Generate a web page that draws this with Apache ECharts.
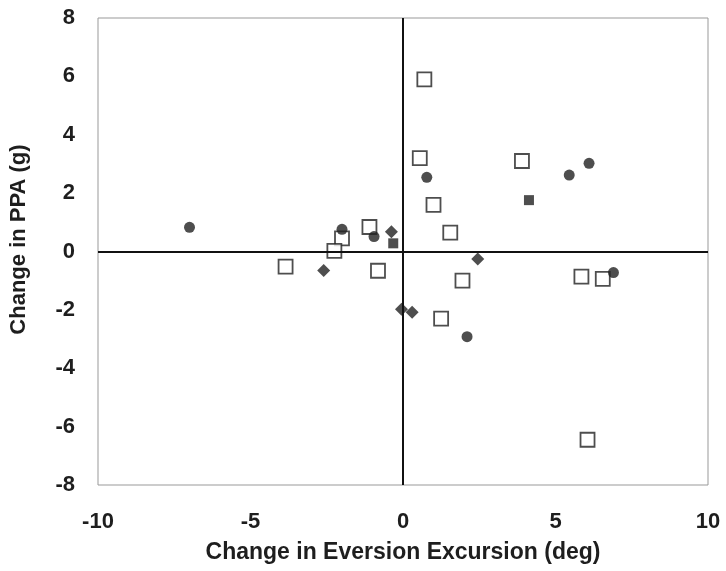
<!DOCTYPE html>
<html>
<head>
<meta charset="utf-8">
<script src="https://cdn.jsdelivr.net/npm/echarts@6/dist/echarts.min.js"></script>
<style>html,body{margin:0;padding:0;background:#fff}#c{width:726px;height:571px}</style>
</head>
<body>
<div id="c"></div>
<script>
var xTicks = [-10, -5, 0, 5, 10];
var yTicks = [-8, -6, -4, -2, 0, 2, 4, 6, 8];
var openSquares = [
  [0.7, 5.9], [0.55, 3.2], [3.9, 3.1], [1.0, 1.6], [1.55, 0.65],
  [-1.1, 0.84], [-2.0, 0.45], [-2.25, 0.02], [-3.85, -0.52], [-0.82, -0.66],
  [1.95, -1.0], [1.25, -2.3], [5.85, -0.86], [6.55, -0.94], [6.05, -6.45]
];
var filledCircles = [
  [-7.0, 0.83], [-2.0, 0.76], [-0.95, 0.51], [0.78, 2.54], [5.45, 2.62],
  [6.1, 3.02], [6.9, -0.72], [2.1, -2.92]
];
var filledDiamonds = [
  [-0.38, 0.68], [-2.6, -0.65], [2.45, -0.26], [-0.05, -1.98], [0.3, -2.08]
];
var filledSquares = [
  [-0.32, 0.28], [4.13, 1.76]
];

var chart = echarts.init(document.getElementById('c'));
var font = 'Liberation Sans, Arial, sans-serif';
chart.setOption({
  animation: false,
  backgroundColor: '#fff',
  grid: { left: 98, right: 18, top: 18, bottom: 86, show: true, borderColor: '#999', borderWidth: 1, backgroundColor: 'transparent' },
  xAxis: {
    type: 'value', min: xTicks[0], max: xTicks[xTicks.length - 1], interval: 5,
    axisLine: { show: false }, axisTick: { show: false }, splitLine: { show: false },
    axisLabel: { fontFamily: font, fontWeight: 'bold', fontSize: 22, color: '#1e1e1e', margin: 26 },
    name: 'Change in Eversion Excursion (deg)', nameLocation: 'middle', nameGap: 56,
    nameTextStyle: { fontFamily: font, fontWeight: 'bold', fontSize: 23, color: '#1e1e1e' }
  },
  yAxis: {
    type: 'value', min: yTicks[0], max: yTicks[yTicks.length - 1], interval: 2,
    axisLine: { show: false }, axisTick: { show: false }, splitLine: { show: false },
    axisLabel: { fontFamily: font, fontWeight: 'bold', fontSize: 22, color: '#1e1e1e', margin: 23 },
    name: 'Change in PPA (g)', nameLocation: 'middle', nameGap: 68, nameRotate: 90,
    nameTextStyle: { fontFamily: font, fontWeight: 'bold', fontSize: 22, color: '#1e1e1e', padding: [0, 0, 0, 24] }
  },
  series: [
    {
      type: 'scatter', data: openSquares, symbol: 'rect', symbolSize: 14,
      itemStyle: { color: '#fff', borderColor: '#222', borderWidth: 1.8 },
      z: 3,
      markLine: {
        silent: true, symbol: 'none', label: { show: false },
        lineStyle: { color: '#111', width: 2, type: 'solid' },
        data: [{ xAxis: 0 }, { yAxis: 0 }]
      }
    },
    { type: 'scatter', data: filledCircles, symbol: 'circle', symbolSize: 11, itemStyle: { color: '#222' }, z: 4 },
    { type: 'scatter', data: filledDiamonds, symbol: 'diamond', symbolSize: 13, itemStyle: { color: '#222' }, z: 4 },
    { type: 'scatter', data: filledSquares, symbol: 'rect', symbolSize: 10, itemStyle: { color: '#222' }, z: 4 }
  ]
});
</script>
</body>
</html>
